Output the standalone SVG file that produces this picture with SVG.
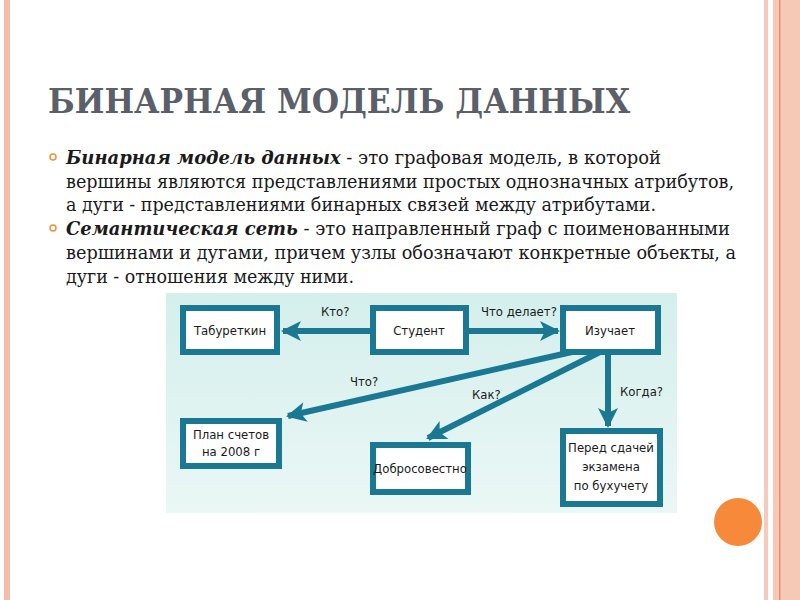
<svg xmlns="http://www.w3.org/2000/svg" width="800" height="600" viewBox="0 0 800 600">
<defs>
<style>
.box{fill:#ffffff;stroke:#1b7893;stroke-width:6}
.bl{font-family:"DejaVu Sans Condensed","Liberation Sans Narrow","Liberation Sans",sans-serif;font-size:13px;fill:#1a1a1a;text-anchor:middle}
.al{font-family:"DejaVu Sans Condensed","Liberation Sans Narrow","Liberation Sans",sans-serif;font-size:13px;fill:#1a1a1a}
.arr{stroke:#1b7893;stroke-width:6;fill:none;marker-end:url(#ah)}
.body{font-family:"DejaVu Serif Condensed","DejaVu Serif",serif;font-size:18px;fill:#1a1a1a}
.bi{font-weight:bold;font-style:italic}
</style>
<marker id="ah" viewBox="0 0 10 10" refX="9" refY="5" markerWidth="22" markerHeight="20" markerUnits="userSpaceOnUse" orient="auto">
<path d="M0,0 L10,5 L0,10 L2.5,5 Z" fill="#1b7893"/>
</marker>
<linearGradient id="bg" x1="0" y1="0" x2="0" y2="1">
<stop offset="0" stop-color="#d4efec"/>
<stop offset="1" stop-color="#eaf7f5"/>
</linearGradient>
</defs>
<rect width="800" height="600" fill="#ffffff"/>
<rect x="4" y="0" width="6" height="600" fill="#f4bcaa"/>
<rect x="764" y="0" width="4" height="600" fill="#f5cbbd"/>
<rect x="773" y="0" width="27" height="600" fill="#f6c8b6"/>
<rect x="779" y="0" width="1.5" height="600" fill="#e98f6c"/>
<text x="48" y="113" font-family="DejaVu Serif Condensed,DejaVu Serif,serif" font-weight="bold" font-size="34" fill="#5a5f69" textLength="582" lengthAdjust="spacingAndGlyphs">БИНАРНАЯ МОДЕЛЬ ДАННЫХ</text>
<circle cx="53" cy="157" r="3" fill="none" stroke="#f0923c" stroke-width="1.5"/>
<circle cx="53" cy="228" r="3" fill="none" stroke="#f0923c" stroke-width="1.5"/>
<text class="body" x="66" y="164" textLength="595" lengthAdjust="spacingAndGlyphs"><tspan class="bi">Бинарная модель данных</tspan> - это графовая модель, в которой</text>
<text class="body" x="66" y="188" textLength="668" lengthAdjust="spacingAndGlyphs">вершины являются представлениями простых однозначных атрибутов,</text>
<text class="body" x="66" y="211" textLength="590" lengthAdjust="spacingAndGlyphs">а дуги - представлениями бинарных связей между атрибутами.</text>
<text class="body" x="66" y="235" textLength="664" lengthAdjust="spacingAndGlyphs"><tspan class="bi">Семантическая сеть</tspan> - это направленный граф с поименованными</text>
<text class="body" x="66" y="259" textLength="670" lengthAdjust="spacingAndGlyphs">вершинами и дугами, причем узлы обозначают конкретные объекты, а</text>
<text class="body" x="66" y="283" textLength="288" lengthAdjust="spacingAndGlyphs">дуги - отношения между ними.</text>
<rect x="166" y="293" width="511" height="220" fill="url(#bg)"/>
<g id="connectors">
<line class="arr" x1="372" y1="331" x2="283" y2="331"/>
<line class="arr" x1="466" y1="331" x2="558" y2="331"/>
<path class="arr" d="M572,352 L288,416"/>
<path class="arr" d="M600,352 L428,438"/>
<line class="arr" x1="608" y1="352" x2="608" y2="426"/>
<text class="al" x="321" y="316">Кто?</text>
<text class="al" x="481" y="316">Что делает?</text>
<text class="al" x="350" y="386">Что?</text>
<text class="al" x="472" y="399">Как?</text>
<text class="al" x="620" y="396">Когда?</text>
</g>
<g id="n1"><rect class="box" x="183" y="308" width="94" height="44"/><text class="bl" x="230" y="335">Табуреткин</text></g>
<g id="n2"><rect class="box" x="373" y="308" width="93" height="44"/><text class="bl" x="419" y="335">Студент</text></g>
<g id="n3"><rect class="box" x="563" y="308" width="95" height="44"/><text class="bl" x="610" y="335">Изучает</text></g>
<g id="n4"><rect class="box" x="183" y="421" width="96" height="45"/><text class="bl" x="231" y="439">План счетов</text><text class="bl" x="231" y="456">на 2008 г</text></g>
<g id="n5"><rect class="box" x="373" y="445" width="95" height="47"/><text class="bl" x="420" y="473">Добросовестно</text></g>
<g id="n6"><rect class="box" x="563" y="431" width="97" height="73"/><text class="bl" x="611" y="452">Перед сдачей</text><text class="bl" x="611" y="471">экзамена</text><text class="bl" x="611" y="490">по бухучету</text></g>
<circle cx="738" cy="522" r="24" fill="#f7893a"/>
</svg>
